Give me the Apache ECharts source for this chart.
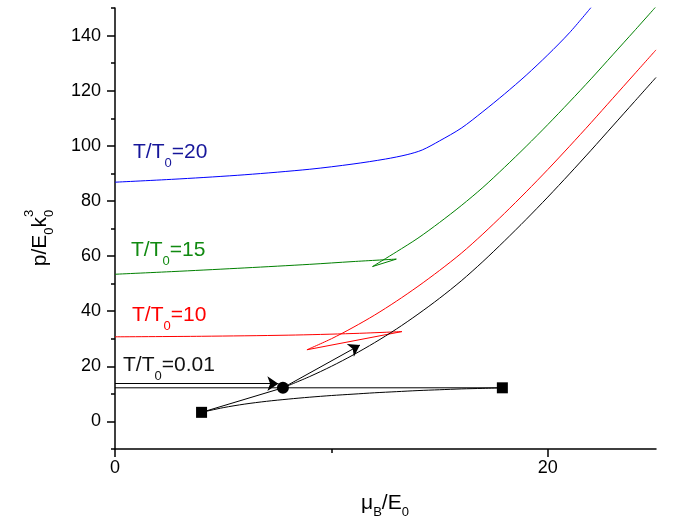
<!DOCTYPE html>
<html><head><meta charset="utf-8">
<script src="https://cdn.jsdelivr.net/npm/echarts@6/dist/echarts.min.js"></script>
<style>html,body{margin:0;padding:0;background:#fff}#c{width:673px;height:526px}</style>
</head><body><div id="c"></div>
<script>
const FONT = '"Liberation Sans", Arial, sans-serif';

// ---- data ----
const blueT20 = [[0,86.8],[3,88.0],[6,89.5],[9,91.5],[11,93.4],[12.5,95.2],[13.5,96.8],[14.2,98.5],[15,101.8],[16,106.4],[17,112.4],[18,118.8],[19,125.6],[20,133.0],[21,141.0],[22,150.2]];
const greenFlat = [[0,53.4],[3,54.5],[6,55.7],[9,57.0],[11,58.0],[13.0,58.9]];
const greenBack = [[13.0,58.9],[11.9,56.2]];
const greenUpper = [[11.9,56.2],[13,61.5],[14,66.5],[15,72.2],[16,78.3],[17,84.9],[18,92.2],[19,99.8],[20,107.7],[21,115.9],[22,124.3],[23,133.0],[24,141.7],[25,150.5]];
const redFlat = [[0,30.7],[4,30.9],[8,31.3],[11,31.9],[13.26,32.6]];
const redBack = [[13.26,32.6],[8.87,26.0]];
const redUpper = [[8.87,26.0],[10,30.0],[11,34.1],[12,38.6],[13,43.6],[14,49.0],[15,54.8],[16,61.0],[17,68.0],[18,75.5],[19,83.3],[20,91.4],[21,99.8],[22,108.4],[23,117.2],[24,126.0],[25,134.8]];
const blackMain = [[7.76,12.2],[9,16.3],[10,20.0],[11,24.1],[12,28.6],[13,33.5],[14,38.9],[15,44.7],[16,51.0],[17,58.0],[18,65.5],[19,73.3],[20,81.4],[21,89.8],[22,98.4],[23,107.2],[24,116.0],[25,124.8]];
const blackLower = [[4.0,3.3],[5,5.0],[6,6.3],[7,7.3],[8,8.1],[9,8.8],[10,9.4],[11,9.9],[12,10.4],[13,10.8],[14,11.2],[15,11.5],[16,11.8],[17,12.0],[17.9,12.2]];
const blackHoriz = [[0,12.2],[17.9,12.2]];
const squareToDot = [[4.0,3.3],[7.76,12.2]];
const arrowIn = [[0,13.7],[7.55,13.7]];
const arrowOut = [[7.76,12.2],[11.32,27.7]];
const squares = [[4.0,3.3],[17.9,12.2]];
const dots = [[7.76,12.2]];

const xMajorTicks = [0,20];
const xMinorTicks = [10];
const yMajorTicks = [0,20,40,60,80,100,120,140];
const yMinorTicks = [-10,10,30,50,70,90,110,130,150];

const labels = [
  {parts:[['T/T','n'],['0','sub'],['=20','n']], color:'#16169a', x:133, y:152},
  {parts:[['T/T','n'],['0','sub'],['=15','n']], color:'#118a11', x:131, y:250},
  {parts:[['T/T','n'],['0','sub'],['=10','n']], color:'#ff0000', x:132, y:315},
  {parts:[['T/T','n'],['0','sub'],['=0.01','n']], color:'#111111', x:123, y:365}
];

// ---- helpers ----
const mctx = document.createElement('canvas').getContext('2d');
function tw(t, s){ mctx.font = s + 'px ' + FONT; return mctx.measureText(t).width; }
function richLabel(parts, x, y, color, rotation, center, MAIN, SUB, dsub, dsup){
  let cx = 0, lastX = 0; const ch = [];
  parts.forEach(([t,k]) => {
    const s = k === 'n' ? MAIN : SUB;
    let px = cx, dy = 0;
    if (k === 'sub') dy = dsub;
    if (k === 'sup') { px = lastX; dy = dsup; }
    ch.push({type:'text', x:px, y:dy, silent:true,
      style:{text:t, fontSize:s, fontFamily:FONT, fill:color, align:'left', verticalAlign:'middle'}});
    if (k !== 'sup') { lastX = cx; cx += tw(t, s); }
  });
  if (center) ch.forEach(c => c.x -= cx/2);
  return {type:'group', x:x, y:y, rotation:rotation||0, silent:true, children:ch};
}

const graphics = labels.map(l => richLabel(l.parts, l.x, l.y, l.color, 0, false, 21, 13, 11, 0));
graphics.push(richLabel([['μ','n'],['B','sub'],['/E','n'],['0','sub']], 385, 503, '#000', 0, true, 21, 13, 9, 0));
graphics.push(richLabel([['p/E','n'],['0','sub'],['k','n'],['0','sub'],['3','sup']], 40, 238, '#000', Math.PI/2, true, 21, 13, 9, -11));

const chart = echarts.init(document.getElementById('c'), null, {renderer:'canvas'});
const axisLine = {show:true, onZero:false, lineStyle:{color:'#000', width:1.5}};
const lineS = (data, color, smooth) => ({type:'line', data, showSymbol:false, symbol:'none',
  smooth: smooth ? 0.3 : false,
  lineStyle:{color, width:1}, silent:true, z:2});

chart.setOption({
  animation:false,
  backgroundColor:'#fff',
  grid:{left:115, right:17, top:8, bottom:77},
  xAxis:[
    {type:'value', min:0, max:25, interval:10, position:'bottom',
     axisLine, splitLine:{show:false},
     axisTick:{show:true, customValues:xMajorTicks, length:8, lineStyle:{color:'#000', width:1.5}},
     axisLabel:{customValues:xMajorTicks, color:'#000', fontSize:18, fontFamily:FONT, margin:10}},
    {type:'value', min:0, max:25, interval:10, position:'bottom',
     axisLine:{show:false, onZero:false}, splitLine:{show:false},
     axisTick:{show:true, customValues:xMinorTicks, length:4, lineStyle:{color:'#000', width:1.5}},
     axisLabel:{show:false}}
  ],
  yAxis:[
    {type:'value', min:-10, max:150, interval:10, position:'left',
     axisLine, splitLine:{show:false},
     axisTick:{show:true, customValues:yMajorTicks, length:8, lineStyle:{color:'#000', width:1.5}},
     axisLabel:{customValues:yMajorTicks, color:'#000', fontSize:18, fontFamily:FONT, margin:14}},
    {type:'value', min:-10, max:150, interval:10, position:'left',
     axisLine:{show:false, onZero:false}, splitLine:{show:false},
     axisTick:{show:true, customValues:yMinorTicks, length:4, lineStyle:{color:'#000', width:1.5}},
     axisLabel:{show:false}}
  ],
  series:[
    lineS(blueT20, '#0000ff', true),
    lineS(greenFlat, '#008000', true),
    lineS(greenBack, '#008000', false),
    lineS(greenUpper, '#008000', true),
    lineS(redFlat, '#ff0000', true),
    lineS(redBack, '#ff0000', false),
    lineS(redUpper, '#ff0000', true),
    lineS(blackMain, '#000', true),
    lineS(blackLower, '#000', true),
    lineS(squareToDot, '#000', false),
    Object.assign(lineS(blackHoriz, '#000', false), {
      markLine:{silent:true, symbol:['none','arrow'], symbolSize:11, animation:false,
        lineStyle:{color:'#000', width:1, type:'solid'}, label:{show:false}, emphasis:{disabled:true},
        data:[
          [{coord:arrowIn[0]},{coord:arrowIn[1]}],
          [{coord:arrowOut[0]},{coord:arrowOut[1]}]
        ]}
    }),
    {type:'scatter', data:squares, symbol:'rect', symbolSize:11, itemStyle:{color:'#000', opacity:1}, silent:true, z:5},
    {type:'scatter', data:dots, symbol:'circle', symbolSize:12, itemStyle:{color:'#000', opacity:1}, silent:true, z:5}
  ],
  graphic:graphics
});
</script></body></html>
